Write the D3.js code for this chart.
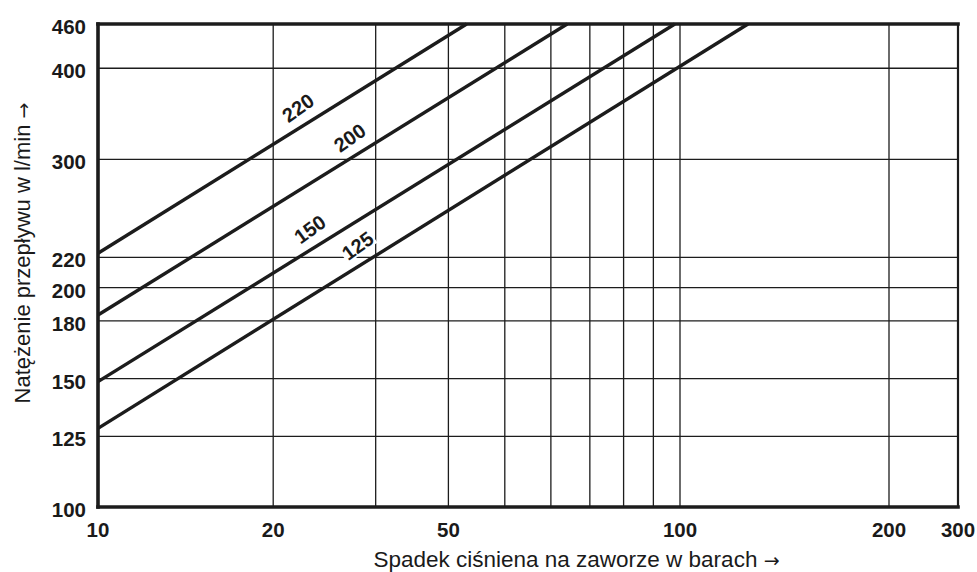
<!DOCTYPE html>
<html>
<head>
<meta charset="utf-8">
<script src="https://cdn.jsdelivr.net/npm/d3@7"></script>
<style>
  html, body { margin: 0; padding: 0; background: #fff; }
  svg { display: block; }
  text { font-family: "Liberation Sans", Arial, Helvetica, sans-serif; fill: #1a1a1a; }
  .arrow { font-family: "DejaVu Sans", sans-serif; }
</style>
</head>
<body>
<svg id="chart" width="977" height="572"></svg>
<script>
// Flow lines: name, flow at 10 bar, pressure drop where the line reaches 460 l/min
const seriesNames = ["220", "200", "150", "125"];
const flowAt10Bar = [222.9, 183.4, 148.6, 128.2];
const dropAtTop = [43.0, 64.0, 98.0, 125.3];
// where along each line its name is written (pressure drop in bar)
const labelAt = [22.9, 28.1, 24.0, 29.0];

// grid and axis ticks
const xGrid = [20, 30, 40, 50, 60, 70, 80, 90, 100, 200];
const yGrid = [125, 150, 180, 200, 220, 300, 400];
const xTickValues = [10, 20, 40, 100, 200, 300];
const xTickLabels = ["10", "20", "50", "100", "200", "300"];
const yTickValues = [460, 400, 300, 220, 200, 180, 150, 125, 100];
const yTickLabels = ["460", "400", "300", "220", "200", "180", "150", "125", "100"];

const xTitle = "Spadek ciśniena na zaworze w barach";
const yTitle = "Natężenie przepływu w l/min";

const svg = d3.select("#chart");
const plotLeft = 98, plotRight = 958, plotTop = 24, plotBottom = 507;

// logarithmic pressure axis, drawn piecewise above 100 bar
const x = d3.scaleLog().domain([10, 100, 200, 300]).range([plotLeft, 680, 889, plotRight]);
const y = d3.scaleLog().domain([100, 460]).range([plotBottom, plotTop]);

const ink = "#1c1c1c";

// grid
const grid = svg.append("g").attr("stroke", ink).attr("stroke-width", 1.3);
grid.selectAll("line.v").data(xGrid).join("line")
  .attr("class", "v")
  .attr("x1", d => x(d)).attr("x2", d => x(d))
  .attr("y1", plotTop).attr("y2", plotBottom);
grid.selectAll("line.h").data(yGrid).join("line")
  .attr("class", "h")
  .attr("x1", plotLeft).attr("x2", plotRight)
  .attr("y1", d => y(d)).attr("y2", d => y(d));

// flow lines
const lines = seriesNames.map((name, i) => ({
  name,
  pts: [[10, flowAt10Bar[i]], [dropAtTop[i], 460]],
  labelX: labelAt[i]
}));
const lineGen = d3.line().x(d => x(d[0])).y(d => y(d[1]));
svg.append("g").selectAll("path").data(lines).join("path")
  .attr("d", d => lineGen(d.pts))
  .attr("fill", "none")
  .attr("stroke", ink)
  .attr("stroke-width", 3.4)
  .attr("stroke-linecap", "butt");

// line names, written just above each line
const lab = svg.append("g").selectAll("g").data(lines).join("g")
  .attr("transform", d => {
    const [p0, p1] = d.pts.map(p => [x(p[0]), y(p[1])]);
    const ang = Math.atan2(p1[1] - p0[1], p1[0] - p0[0]);
    const px = x(d.labelX);
    const t = (px - p0[0]) / (p1[0] - p0[0]);
    const py = p0[1] + t * (p1[1] - p0[1]);
    const off = 18;
    const cx = px + off * Math.sin(ang);
    const cy = py - off * Math.cos(ang);
    return `translate(${cx},${cy}) rotate(${ang * 180 / Math.PI - 4})`;
  });
lab.append("rect")
  .attr("x", -18).attr("y", -9).attr("width", 36).attr("height", 18)
  .attr("fill", "#fff");
lab.append("text")
  .attr("text-anchor", "middle")
  .attr("dy", "0.36em")
  .attr("font-size", 20)
  .attr("font-weight", "bold")
  .text(d => d.name);

// frame
const frame = svg.append("g").attr("stroke", ink).attr("stroke-linecap", "square");
frame.append("line").attr("x1", plotRight).attr("x2", plotRight).attr("y1", plotTop).attr("y2", plotBottom).attr("stroke-width", 2.2);
frame.append("line").attr("x1", plotLeft).attr("x2", plotRight).attr("y1", plotTop).attr("y2", plotTop).attr("stroke-width", 3.6);
frame.append("line").attr("x1", plotLeft).attr("x2", plotRight).attr("y1", plotBottom).attr("y2", plotBottom).attr("stroke-width", 3.6);
frame.append("line").attr("x1", plotLeft).attr("x2", plotLeft).attr("y1", plotTop).attr("y2", plotBottom).attr("stroke-width", 3.6);

// tick labels
svg.append("g").selectAll("text").data(yTickValues).join("text")
  .attr("x", 86)
  .attr("y", d => y(d) + 10)
  .attr("text-anchor", "end")
  .attr("font-size", 20.5)
  .attr("font-weight", "bold")
  .text((d, i) => yTickLabels[i]);

svg.append("g").selectAll("text").data(xTickValues).join("text")
  .attr("x", d => x(d))
  .attr("y", 537)
  .attr("text-anchor", "middle")
  .attr("font-size", 20.5)
  .attr("font-weight", "bold")
  .text((d, i) => xTickLabels[i]);

// axis titles, each ending in an arrow
const xt = svg.append("text")
  .attr("x", 576.5).attr("y", 566.5)
  .attr("text-anchor", "middle")
  .attr("font-size", 22.5);
xt.append("tspan").text(xTitle + " ");
xt.append("tspan").attr("class", "arrow").attr("font-size", 19).text("→");

const yt = svg.append("text")
  .attr("transform", "translate(29.5,253) rotate(-90)")
  .attr("text-anchor", "middle")
  .attr("font-size", 22);
yt.append("tspan").text(yTitle + " ");
yt.append("tspan").attr("class", "arrow").attr("font-size", 19).text("→");
</script>
</body>
</html>
